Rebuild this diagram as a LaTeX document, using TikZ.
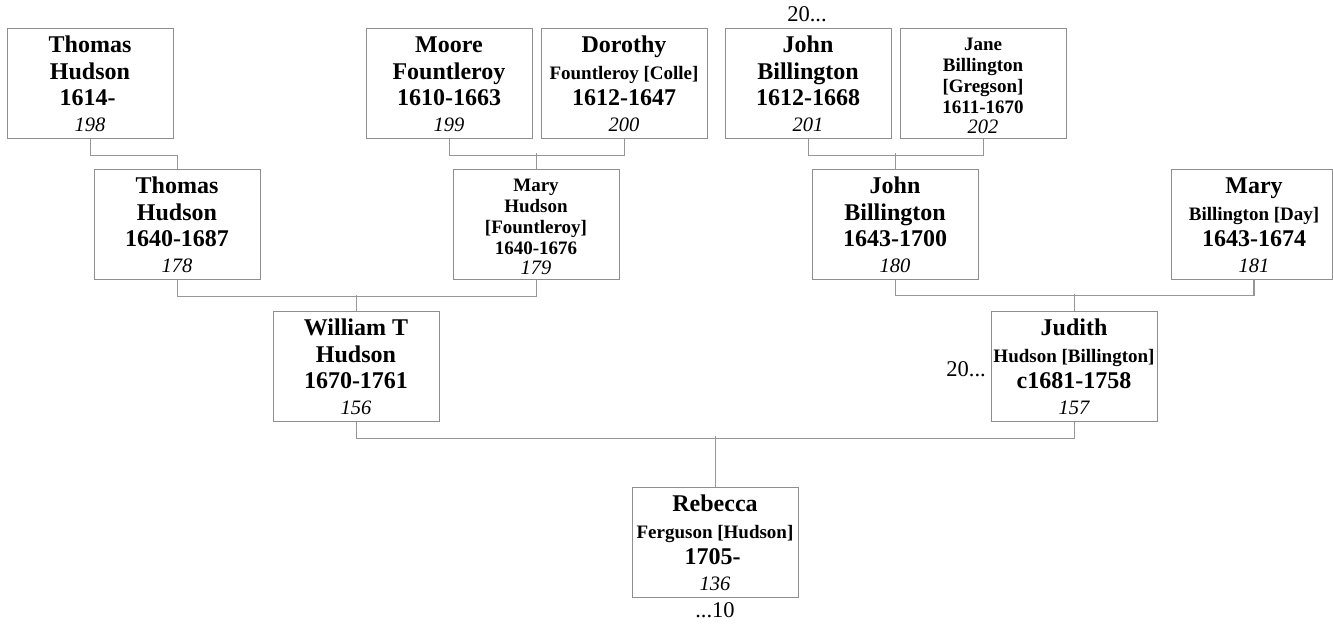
\documentclass[tikz,border=0pt]{standalone}
\usepackage{fontspec}
\setmainfont{Liberation Serif}
\definecolor{boxgray}{HTML}{8E8E8E}
\definecolor{linegray}{HTML}{969696}
\tikzset{
  box/.style={draw=boxgray, line width=1.1pt, minimum width=166pt, minimum height=110pt, inner sep=0pt, anchor=north west},
  big/.style={font=\bfseries\fontsize{24}{26}\selectfont, anchor=base, inner sep=0pt},
  small/.style={font=\bfseries\fontsize{19}{21}\selectfont, anchor=base, inner sep=0pt},
  num/.style={font=\itshape\fontsize{20.5}{22}\selectfont, anchor=base, inner sep=0pt},
  note/.style={font=\fontsize{22.5}{24}\selectfont, anchor=base, inner sep=0pt},
  link/.style={draw=linegray, line width=1.1pt}
}
% big layout: name, x, y, line1, style of line2, line2, line3, number
\newcommand\pbig[9][]{%
  \node[box,#1] (#2) at (#3,#4) {};
  \path (#3+83,#4) ++(0,24) node[big] (#2a) {#5}
        ++(0,27) node[#6] (#2b) {#7}
        ++(0,26) node[big] (#2c) {#8}
        ++(0,26) node[num] (#2d) {#9};
}
% small layout: name, x, y, four lines, number
\newcommand\psmall[8]{%
  \node[box] (#1) at (#2,#3) {};
  \path (#2+83,#3) ++(0,22) node[small] (#1a) {#4}
        ++(0,21) node[small] (#1b) {#5}
        ++(0,21) node[small] (#1c) {#6}
        ++(0,21) node[small] (#1d) {#7}
        ++(0,20) node[num] (#1e) {#8};
}
\begin{document}
\begin{tikzpicture}[x=1pt,y=-1pt]
\fill[white] (0,0) rectangle (1333,625);
\useasboundingbox (0,0) rectangle (1333,625);

\pbig{p198}{7}{28}{Thomas}{big}{Hudson}{1614-\hspace*{5pt}}{198}
\pbig{p199}{366}{28}{Moore}{big}{Fountleroy}{1610-1663}{199}
\pbig{p200}{541}{28}{Dorothy}{small}{Fountleroy [Colle]}{1612-1647}{200}
\pbig{p201}{725}{28}{John}{big}{Billington}{1612-1668}{201}
\psmall{p202}{900}{28}{Jane}{Billington}{[Gregson]}{1611-1670}{202}

\pbig{p178}{94}{169}{Thomas}{big}{Hudson}{1640-1687}{178}
\psmall{p179}{453}{169}{Mary}{Hudson}{[Fountleroy]}{1640-1676}{179}
\pbig{p180}{812}{169}{John}{big}{Billington}{1643-1700}{180}
\pbig[minimum width=161pt]{p181}{1171}{169}{Mary}{small}{Billington [Day]}{1643-1674}{181}

\pbig{p156}{273}{311}{William T}{big}{Hudson}{1670-1761}{156}
\pbig{p157}{991}{311}{Judith}{small}{Hudson [Billington]}{c1681-1758}{157}

\pbig{p136}{632}{487}{Rebecca}{small}{Ferguson [Hudson]}{1705-\hspace*{5pt}}{136}

\coordinate (c181) at (1254,279);

% connectors
\draw[link] (p198.south) -- ++(0,16) -| (p178.north);
\draw[link] (p199.south) -- ++(0,16) -| (p200.south);
\draw[link] (p179.north) -- ++(0,-16);
\draw[link] (p201.south) -- ++(0,16) -| (p202.south);
\draw[link] (p180.north) -- ++(0,-16);
\draw[link] (p178.south) -- ++(0,16) -| (p179.south);
\draw[link] (p156.north) -- ++(0,-16);
\draw[link] (p180.south) -- ++(0,15) -| (c181);
\draw[link] (p157.north) -- ++(0,-17);
\draw[link] (p156.south) -- ++(0,16) -| (p157.south);
\draw[link] (p136.north) -- ++(0,-51);

% notes
\node[note] (n1) at (807,21) {20...};
\node[note, anchor=base east] (n2) at (986,376) {20...};
\node[note] (n3) at (715,617) {...10};
\end{tikzpicture}
\end{document}
